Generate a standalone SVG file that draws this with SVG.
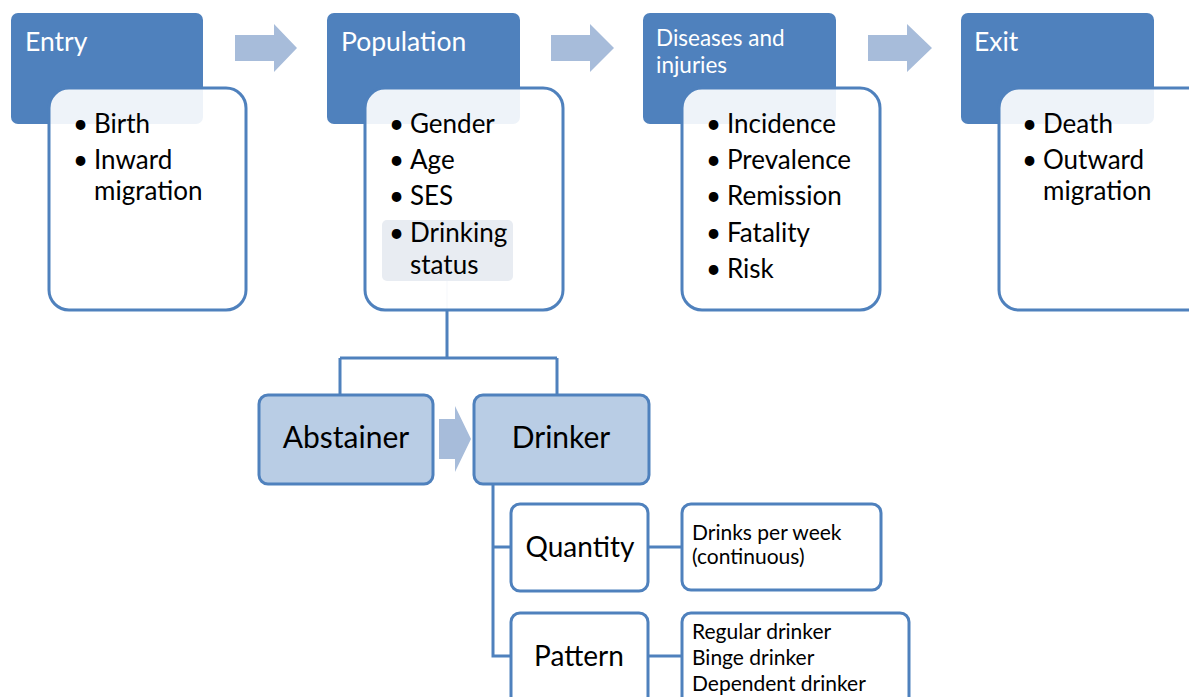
<svg xmlns="http://www.w3.org/2000/svg" width="1189" height="697" viewBox="0 0 1189 697">
<style>
.hdr{fill:#4f81bd}
.card{fill:#ffffff;fill-opacity:0.9;stroke:#4f81bd;stroke-width:3}
.box{fill:#ffffff;stroke:#4f81bd;stroke-width:3}
.sbox{fill:#b9cde5;stroke:#4f81bd;stroke-width:3}
.arr{fill:#a7bcda}
.ht{font-family:Lato,"Liberation Sans",sans-serif;font-size:26.5px;fill:#ffffff}
.bt{font-family:Lato,"Liberation Sans",sans-serif;font-size:26px;fill:#000000}
.mt{font-family:Lato,"Liberation Sans",sans-serif;font-size:30px;fill:#000000;text-anchor:middle}
.st{font-family:Lato,"Liberation Sans",sans-serif;font-size:21px;fill:#000000}
.ln{fill:none;stroke:#4f81bd;stroke-width:3}
</style>
<g id="arrows">
<path class="arr" d="M235,35 H274 V24 L297,48 L274,72 V61 H235 Z"/>
<path class="arr" d="M551,35 H590 V24 L614,48 L590,72 V61 H551 Z"/>
<path class="arr" d="M868,35 H907 V24 L932,48 L907,72 V61 H868 Z"/>
<path class="arr" d="M439,419 H455 V406 L471,439 L455,472 V459 H439 Z"/>
</g>
<g id="connectors">
<line x1="447" y1="281" x2="447" y2="310" stroke="#c5d3e8" stroke-width="2"/>
<path class="ln" d="M447,310 V358 M340,358 H557 M340,358 V395 M557,358 V395"/>
<path class="ln" d="M493,484 V656 H511 M493,547 H511"/>
<path class="ln" d="M648,547 H682 M648,656 H682"/>
</g>
<g id="entry">
<rect class="hdr" x="11" y="13" width="192" height="111" rx="7"/>
<text class="ht" x="25" y="51">Entry</text>
<rect class="card" x="49" y="88" width="197" height="222" rx="20"/>
<text class="bt"><tspan x="73" y="133">•</tspan><tspan x="94" y="133">Birth</tspan><tspan x="73" y="169">•</tspan><tspan x="94" y="169">Inward</tspan><tspan x="94" y="200">migration</tspan></text>
</g>
<g id="population">
<rect class="hdr" x="327" y="13" width="193" height="111" rx="7"/>
<text class="ht" x="341" y="51">Population</text>
<rect class="card" x="365" y="88" width="198" height="222" rx="20"/>
<rect x="382" y="220" width="131" height="61" rx="5" fill="#e8ecf2"/>
<text class="bt"><tspan x="389" y="133">•</tspan><tspan x="410" y="133">Gender</tspan><tspan x="389" y="169">•</tspan><tspan x="410" y="169">Age</tspan><tspan x="389" y="205">•</tspan><tspan x="410" y="205">SES</tspan><tspan x="389" y="242">•</tspan><tspan x="410" y="242">Drinking</tspan><tspan x="410" y="274">status</tspan></text>
</g>
<g id="diseases">
<rect class="hdr" x="643" y="13" width="193" height="111" rx="7"/>
<text class="ht" style="font-size:22.5px"><tspan x="656" y="46">Diseases and</tspan><tspan x="656" y="73">injuries</tspan></text>
<rect class="card" x="682" y="88" width="198" height="222" rx="20"/>
<text class="bt"><tspan x="706" y="133">•</tspan><tspan x="727" y="133">Incidence</tspan><tspan x="706" y="169">•</tspan><tspan x="727" y="169">Prevalence</tspan><tspan x="706" y="205">•</tspan><tspan x="727" y="205">Remission</tspan><tspan x="706" y="242">•</tspan><tspan x="727" y="242">Fatality</tspan><tspan x="706" y="278">•</tspan><tspan x="727" y="278">Risk</tspan></text>
</g>
<g id="exit">
<rect class="hdr" x="961" y="13" width="193" height="111" rx="7"/>
<text class="ht" x="974" y="51">Exit</text>
<rect class="card" x="999" y="88" width="210" height="222" rx="20"/>
<text class="bt"><tspan x="1022" y="133">•</tspan><tspan x="1043" y="133">Death</tspan><tspan x="1022" y="169">•</tspan><tspan x="1043" y="169">Outward</tspan><tspan x="1043" y="200">migration</tspan></text>
</g>
<g id="abstainer">
<rect class="sbox" x="259" y="395" width="174" height="89" rx="9"/>
<text class="mt" x="346" y="448">Abstainer</text>
</g>
<g id="drinker">
<rect class="sbox" x="474" y="395" width="175" height="89" rx="9"/>
<text class="mt" x="561" y="448">Drinker</text>
</g>
<g id="quantity">
<rect class="box" x="511" y="504" width="137" height="87" rx="9"/>
<text class="mt" style="font-size:28px" x="580" y="557">Quantity</text>
</g>
<g id="drinks">
<rect class="box" x="682" y="504" width="199" height="86" rx="9"/>
<text class="st"><tspan x="692" y="540">Drinks per week</tspan><tspan x="692" y="564">(continuous)</tspan></text>
</g>
<g id="pattern">
<rect class="box" x="511" y="613" width="137" height="95" rx="9"/>
<text class="mt" style="font-size:28px" x="579" y="666">Pattern</text>
</g>
<g id="patterns">
<rect class="box" x="682" y="613" width="227" height="95" rx="9"/>
<text class="st"><tspan x="692" y="639">Regular drinker</tspan><tspan x="692" y="665">Binge drinker</tspan><tspan x="692" y="691">Dependent drinker</tspan></text>
</g>
</svg>
